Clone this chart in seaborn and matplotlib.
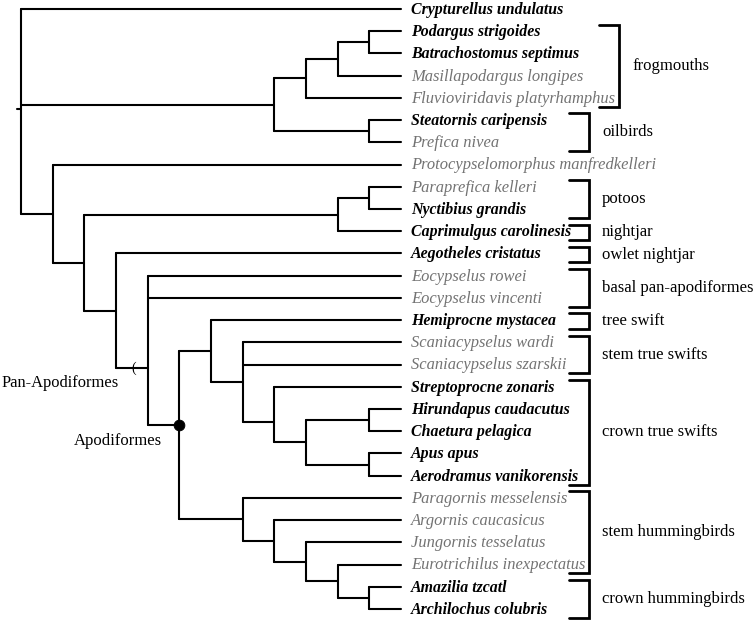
import matplotlib
matplotlib.use("Agg")
import matplotlib.pyplot as plt
import numpy as np
import pandas as pd
import seaborn as sns

# ---------------- data ----------------
taxa = [
    "Crypturellus undulatus", "Podargus strigoides", "Batrachostomus septimus",
    "Masillapodargus longipes", "Fluvioviridavis platyrhamphus", "Steatornis caripensis",
    "Prefica nivea", "Protocypselomorphus manfredkelleri", "Paraprefica kelleri",
    "Nyctibius grandis", "Caprimulgus carolinesis", "Aegotheles cristatus",
    "Eocypselus rowei", "Eocypselus vincenti", "Hemiprocne mystacea",
    "Scaniacypselus wardi", "Scaniacypselus szarskii", "Streptoprocne zonaris",
    "Hirundapus caudacutus", "Chaetura pelagica", "Apus apus",
    "Aerodramus vanikorensis", "Paragornis messelensis", "Argornis caucasicus",
    "Jungornis tesselatus", "Eurotrichilus inexpectatus", "Amazilia tzcatl",
    "Archilochus colubris",
]
extinct = [0, 0, 0, 1, 1, 0, 1, 1, 1, 0, 0, 0, 1, 1, 0, 1, 1, 0, 0, 0, 0, 0,
           1, 1, 1, 1, 0, 0]

# tree: (name, depth, children); leaves are taxon indices (depth 12)
LEAF_DEPTH = 12
tree = ("root", 0, [
    0,
    ("A", 8, [("F", 9, [("F2", 10, [("F3", 11, [1, 2]), 3]), 4]),
              ("O", 11, [5, 6])]),
    ("B", 1, [
        7,
        ("C", 2, [
            ("N", 10, [("P", 11, [8, 9]), 10]),
            ("D", 3, [
                11,
                ("E", 4, [
                    12, 13,
                    ("Apo", 5, [
                        ("S", 6, [14, ("S2", 7, [15, 16, ("Cr", 8, [17, ("Cr2", 9, [
                            ("Q1", 11, [18, 19]), ("Q2", 11, [20, 21])])])])]),
                        ("H", 7, [22, ("H2", 8, [23, ("H3", 9, [24, ("H4", 10, [25, ("H5", 11, [26, 27])])])])]),
                    ]),
                ]),
            ]),
        ]),
    ]),
])
node_y = {"E": 16.15, "Apo": 18.7, "Cr": 18.6}

groups = ["frogmouths", "oilbirds", "potoos", "nightjar", "owlet nightjar",
          "basal pan-apodiformes", "tree swift", "stem true swifts",
          "crown true swifts", "stem hummingbirds", "crown hummingbirds"]
group_first = [1, 5, 8, 10, 11, 12, 14, 15, 17, 22, 26]
group_last = [4, 6, 9, 10, 11, 13, 14, 16, 21, 25, 27]

# ---------------- layout ----------------
segs = []
nodes = {}


def layout(node):
    if isinstance(node, int):
        return float(node), LEAF_DEPTH
    name, d, children = node
    ys = []
    for ch in children:
        cy, cd = layout(ch)
        ys.append(cy)
        segs.append(((d, cd), (cy, cy)))
    segs.append(((d, d), (min(ys), max(ys))))
    y = node_y.get(name, (min(ys) + max(ys)) / 2)
    nodes[name] = (d, y)
    return y, d


root_y, _ = layout(tree)
segs.append(((-0.13, 0), (root_y - 0.1, root_y - 0.1)))

rows = []
for k, (xs, ys) in enumerate(segs):
    for x, y in zip(xs, ys):
        rows.append({"seg": k, "x": x, "y": y})
df = pd.DataFrame(rows)

# ---------------- figure ----------------
sns.set_theme(style="white")
plt.rcParams["font.family"] = ["Liberation Serif", "DejaVu Serif"]
W, H = 755, 621
fig = plt.figure(figsize=(W / 100, H / 100), dpi=100)
ax = fig.add_axes([0, 0, 1, 1])
XU, YU = 31.67, 22.22
x0, y0 = 21, 9
ax.set_xlim(-x0 / XU, (W - x0) / XU)
ax.set_ylim((H - y0) / YU, -y0 / YU)
ax.axis("off")

sns.lineplot(data=df, x="x", y="y", units="seg", estimator=None, sort=False,
             color="black", linewidth=1.5, ax=ax, legend=False)

# Apodiformes node marker
ad, ay = nodes["Apo"]
sns.scatterplot(x=[ad], y=[ay], color="black", s=60, zorder=5, ax=ax,
                legend=False, edgecolor="black")

# leaf labels
fig.canvas.draw()
rend = fig.canvas.get_renderer()
txts = []
for i, t in enumerate(taxa):
    tx = ax.text(LEAF_DEPTH + 10 / XU, i + 0.22, t, style="italic",
                 fontweight="normal" if extinct[i] else "bold",
                 color="#737373" if extinct[i] else "black",
                 fontsize=11.9 if extinct[i] else 11.4,
                 va="baseline", ha="left")
    txts.append(tx)
fig.canvas.draw()
inv = ax.transData.inverted()

base_bx = (589 - x0) / XU
for g, a, b in zip(groups, group_first, group_last):
    right = max(inv.transform((txts[i].get_window_extent(rend).x1, 0))[0]
                for i in range(a, b + 1))
    bx = max(base_bx, right + 4 / XU)
    top, bot = a - 0.3, b + 0.4
    ax.plot([bx - 0.63, bx, bx, bx - 0.63], [top, top, bot, bot],
            color="black", lw=2.0, solid_joinstyle="miter")
    ax.text(bx + 13 / XU, (a + b) / 2 + 0.05, g, fontsize=12, va="center",
            ha="left", color="black")

# clade labels
ed, ey = nodes["E"]
ax.text(-x0 / XU + 1.5 / XU, ey + 0.7, "Pan-Apodiformes", fontsize=11.9,
        ha="left", va="center", color="black")
ax.text(ed - 1 + 0.57, ey, "(", fontsize=10, ha="center", va="center",
        color="black")
ax.text(ad - 0.55, ay + 0.74, "Apodiformes", fontsize=12, ha="right",
        va="center", color="black")

fig.savefig("out.png", dpi=100)
